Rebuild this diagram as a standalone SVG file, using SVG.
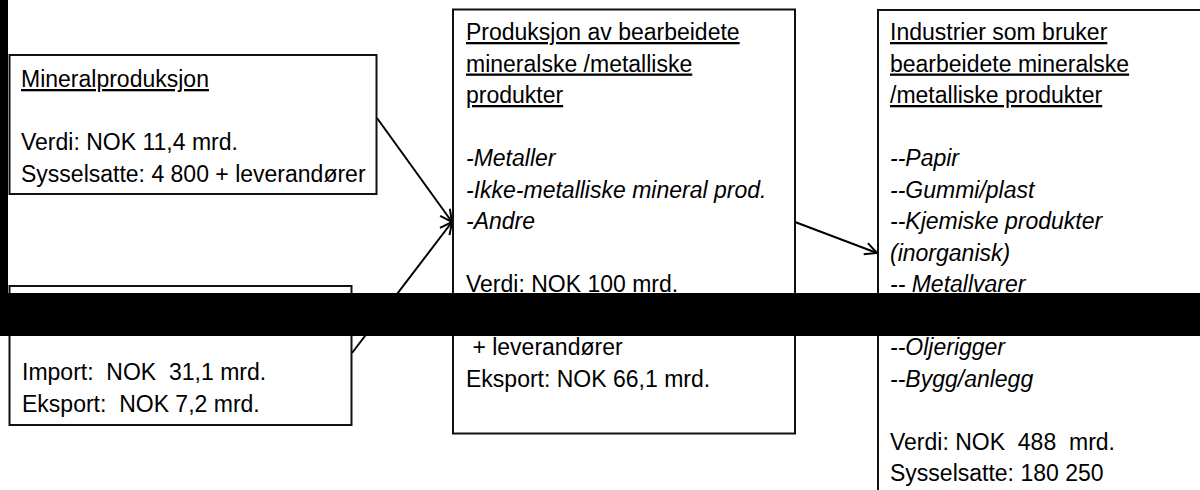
<svg xmlns="http://www.w3.org/2000/svg" width="1200" height="490" viewBox="0 0 1200 490">
  <style>
    .box { fill: #fff; stroke: #111; stroke-width: 2; }
    .t { font-family: "Liberation Sans", Arial, sans-serif; font-size: 23px; fill: #000; white-space: pre; }
    .h { text-decoration: underline; }
    .i { font-style: italic; }
    .link { fill: none; stroke: #000; stroke-width: 2; }
    .mask { fill: #000; }
  </style>
  <defs>
    <marker id="arrow" markerUnits="userSpaceOnUse" markerWidth="16" markerHeight="16" viewBox="-14 -8 16 16" refX="0" refY="0" orient="auto">
      <path d="M-12,-6 L0,0 L-12,6" fill="none" stroke="#000" stroke-width="2"/>
    </marker>
  </defs>

  <rect width="1200" height="490" fill="#fff"/>

  <!-- connectors -->
  <g id="connectors">
    <line class="link" x1="377" y1="118" x2="452" y2="222" marker-end="url(#arrow)"/>
    <line class="link" x1="352" y1="353" x2="452" y2="222" marker-end="url(#arrow)"/>
    <line class="link" x1="795" y1="222" x2="877" y2="253" marker-end="url(#arrow)"/>
  </g>

  <!-- mineral production -->
  <g id="node-mineral">
    <rect class="box" x="9.5" y="55" width="367" height="139"/>
    <text class="t h" x="21" y="87">Mineralproduksjon</text>
    <text class="t" x="21" y="150">Verdi: NOK 11,4 mrd.</text>
    <text class="t" x="21" y="181.5">Sysselsatte: 4 800 + leverandører</text>
  </g>

  <!-- trade -->
  <g id="node-handel">
    <rect class="box" x="9.5" y="286" width="342" height="139"/>
    <text class="t" x="22" y="380">Import:  NOK  31,1 mrd.</text>
    <text class="t" x="22" y="411.5">Eksport:  NOK 7,2 mrd.</text>
  </g>

  <!-- processed products -->
  <g id="node-prod">
    <rect class="box" x="453" y="9.5" width="342" height="424"/>
    <text class="t h" x="466" y="40">Produksjon av bearbeidete</text>
    <text class="t h" x="466" y="71.5">mineralske /metalliske</text>
    <text class="t h" x="466" y="103">produkter</text>
    <text class="t i" x="466" y="166">-Metaller</text>
    <text class="t i" x="466" y="197.5">-Ikke-metalliske mineral prod.</text>
    <text class="t i" x="466" y="229">-Andre</text>
    <text class="t" x="466" y="292">Verdi: NOK 100 mrd.</text>
    <text class="t" x="466" y="355"> + leverandører</text>
    <text class="t" x="466" y="386.5">Eksport: NOK 66,1 mrd.</text>
  </g>

  <!-- user industries -->
  <g id="node-industri">
    <path class="box" d="M1202,10 H878 V492"/>
    <text class="t h" x="890" y="40">Industrier som bruker</text>
    <text class="t h" x="890" y="71.5">bearbeidete mineralske</text>
    <text class="t h" x="890" y="103">/metalliske produkter</text>
    <text class="t i" x="890" y="166">--Papir</text>
    <text class="t i" x="890" y="197.5">--Gummi/plast</text>
    <text class="t i" x="890" y="229">--Kjemiske produkter</text>
    <text class="t i" x="890" y="260.5">(inorganisk)</text>
    <text class="t i" x="890" y="292">-- Metallvarer</text>
    <text class="t i" x="890" y="355">--Oljerigger</text>
    <text class="t i" x="890" y="386.5">--Bygg/anlegg</text>
    <text class="t" x="890" y="449.5">Verdi: NOK  488  mrd.</text>
    <text class="t" x="890" y="481">Sysselsatte: 180 250</text>
  </g>

  <!-- solid bars -->
  <rect class="mask" x="0" y="0" width="8" height="293"/>
  <rect class="mask" x="0" y="293" width="1200" height="43"/>
</svg>
